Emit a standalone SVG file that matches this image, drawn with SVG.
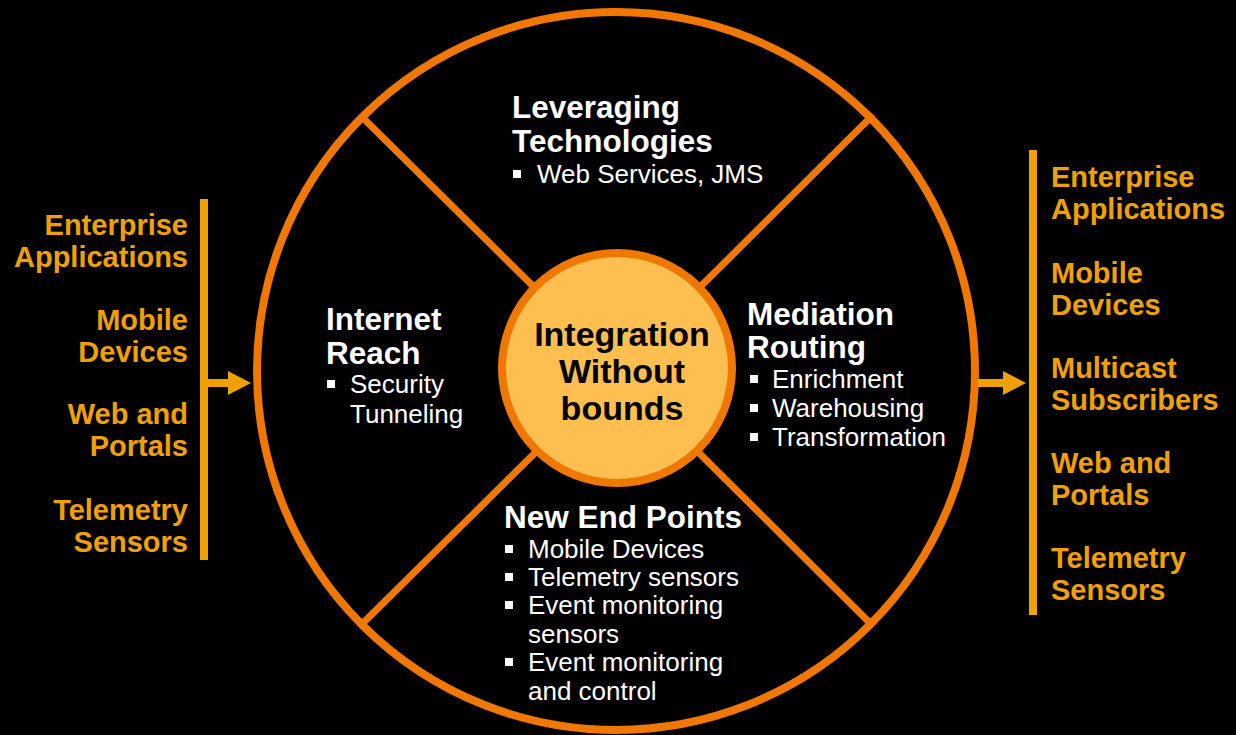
<svg xmlns="http://www.w3.org/2000/svg" width="1236" height="735" viewBox="0 0 1236 735">
  <defs>
    <style>
      .ring { fill: none; stroke: #F07800; stroke-width: 8; }
      .divider { stroke: #F07800; stroke-width: 7; }
      .hub { fill: #FEBE50; stroke: #F07800; stroke-width: 8; }
      .bar { fill: #F0A000; }
      .conn { stroke: #F0A000; stroke-width: 8; fill: none; }
      .side { font-family: "Liberation Sans", Arial, sans-serif; font-weight: bold; font-size: 29px; fill: #F0A000; }
      .hubtxt { font-family: "Liberation Sans", Arial, sans-serif; font-weight: bold; font-size: 34px; fill: #000; text-anchor: middle; }
      .head { font-family: "Liberation Sans", Arial, sans-serif; font-weight: bold; font-size: 31.5px; fill: #fff; }
      .item { font-family: "Liberation Sans", Arial, sans-serif; font-size: 26px; fill: #fff; }
      .bul { fill: #fff; }
    </style>
    <marker id="arrow" markerUnits="userSpaceOnUse" markerWidth="24" markerHeight="26" refX="0" refY="12" orient="auto">
      <path d="M0,0 L23,12 L0,24 Z" fill="#F0A000"/>
    </marker>
  </defs>
  <rect x="0" y="0" width="1236" height="735" fill="#000"/>

  <g id="wheel">
    <line class="divider" x1="360" y1="115" x2="540" y2="293"/>
    <line class="divider" x1="873" y1="115" x2="694" y2="293"/>
    <line class="divider" x1="360" y1="626" x2="540" y2="448"/>
    <line class="divider" x1="873" y1="626" x2="694" y2="448"/>
    <circle class="ring" cx="616" cy="371" r="359"/>
  </g>

  <g id="hub">
    <circle class="hub" cx="617" cy="368" r="115"/>
    <text class="hubtxt" x="622" y="346">Integration</text>
    <text class="hubtxt" x="622" y="383">Without</text>
    <text class="hubtxt" x="622" y="420">bounds</text>
  </g>

  <g id="leveraging">
    <text class="head" x="512" y="118">Leveraging</text>
    <text class="head" x="512" y="152">Technologies</text>
    <rect class="bul" x="513" y="170" width="8" height="8"/>
    <text class="item" x="537" y="183">Web Services, JMS</text>
  </g>

  <g id="internet">
    <text class="head" x="326" y="330">Internet</text>
    <text class="head" x="326" y="364">Reach</text>
    <rect class="bul" x="327" y="380" width="8" height="8"/>
    <text class="item" x="350" y="393">Security</text>
    <text class="item" x="350" y="423">Tunneling</text>
  </g>

  <g id="mediation">
    <text class="head" x="747" y="325">Mediation</text>
    <text class="head" x="747" y="358">Routing</text>
    <rect class="bul" x="750" y="375" width="8" height="8"/>
    <text class="item" x="772" y="388">Enrichment</text>
    <rect class="bul" x="750" y="404" width="8" height="8"/>
    <text class="item" x="772" y="417">Warehousing</text>
    <rect class="bul" x="750" y="433" width="8" height="8"/>
    <text class="item" x="772" y="446">Transformation</text>
  </g>

  <g id="endpoints">
    <text class="head" x="504" y="528">New End Points</text>
    <rect class="bul" x="505" y="545" width="8" height="8"/>
    <text class="item" x="528" y="558">Mobile Devices</text>
    <rect class="bul" x="505" y="573" width="8" height="8"/>
    <text class="item" x="528" y="586">Telemetry sensors</text>
    <rect class="bul" x="505" y="601" width="8" height="8"/>
    <text class="item" x="528" y="614">Event monitoring</text>
    <text class="item" x="528" y="643">sensors</text>
    <rect class="bul" x="505" y="658" width="8" height="8"/>
    <text class="item" x="528" y="671">Event monitoring</text>
    <text class="item" x="528" y="700">and control</text>
  </g>

  <g id="sources">
    <rect class="bar" x="200" y="199" width="8" height="361"/>
    <g text-anchor="end">
      <text class="side" x="188" y="235">Enterprise</text>
      <text class="side" x="188" y="267">Applications</text>
      <text class="side" x="188" y="330">Mobile</text>
      <text class="side" x="188" y="362">Devices</text>
      <text class="side" x="188" y="424">Web and</text>
      <text class="side" x="188" y="456">Portals</text>
      <text class="side" x="188" y="520">Telemetry</text>
      <text class="side" x="188" y="552">Sensors</text>
    </g>
  </g>

  <g id="targets">
    <rect class="bar" x="1029" y="150" width="8" height="465"/>
    <text class="side" x="1051" y="187">Enterprise</text>
    <text class="side" x="1051" y="219">Applications</text>
    <text class="side" x="1051" y="283">Mobile</text>
    <text class="side" x="1051" y="315">Devices</text>
    <text class="side" x="1051" y="378">Multicast</text>
    <text class="side" x="1051" y="410">Subscribers</text>
    <text class="side" x="1051" y="473">Web and</text>
    <text class="side" x="1051" y="505">Portals</text>
    <text class="side" x="1051" y="568">Telemetry</text>
    <text class="side" x="1051" y="600">Sensors</text>
  </g>

  <g id="connectors">
    <line class="conn" x1="207" y1="383" x2="228" y2="383" marker-end="url(#arrow)"/>
    <line class="conn" x1="978" y1="383" x2="1003" y2="383" marker-end="url(#arrow)"/>
  </g>
</svg>
